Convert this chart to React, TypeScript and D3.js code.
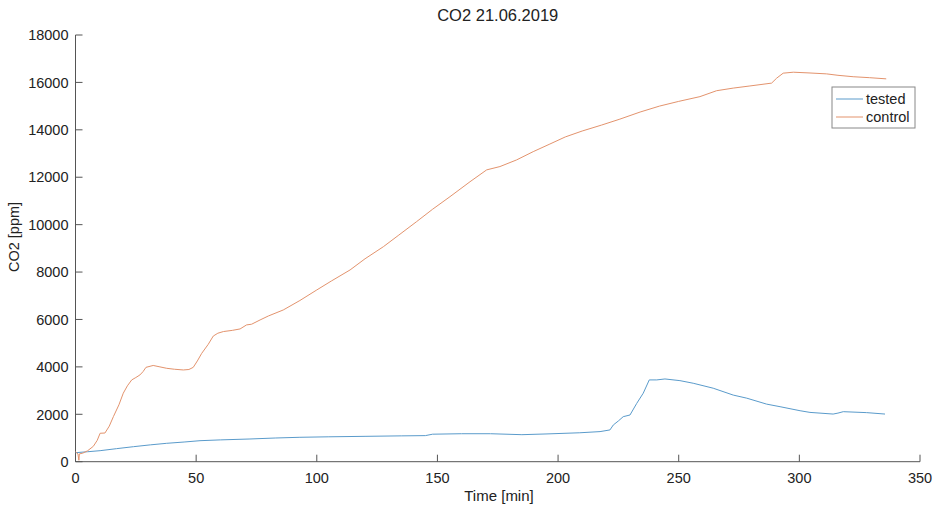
import * as d3 from 'd3';
import React, { useEffect, useRef } from 'react';

const timeTested = [0, 5, 10.2, 17, 24, 31, 37.8, 45, 51.6, 60, 72.3, 83, 93, 105, 120, 135, 145, 148, 160, 172, 185, 195, 209, 217.4, 221.5, 222.9, 225, 227, 229.8, 232.6, 235.3, 237.8, 240.9, 244.3, 250.5, 256, 264.3, 272.6, 278.2, 286.4, 292, 300.3, 304.4, 314, 316, 318.2, 327.9, 335.5];
const co2Tested = [380, 420, 465, 550, 633, 710, 776, 830, 886, 920, 958, 1000, 1030, 1050, 1070, 1090, 1100, 1160, 1180, 1180, 1140, 1170, 1220, 1270, 1340, 1550, 1720, 1900, 1970, 2460, 2890, 3450, 3450, 3490, 3420, 3310, 3100, 2810, 2680, 2430, 2320, 2150, 2080, 2010, 2050, 2110, 2070, 2010];

const timeControl = [0, 1, 1.4, 1.6, 3, 5, 7.4, 9, 10.2, 12.2, 14, 15.7, 18, 19.8, 21.5, 23.3, 25, 26.7, 28, 29.2, 32.2, 35, 37.8, 41, 44.7, 47, 48.8, 50.5, 52.3, 55, 57.1, 59, 61.3, 65, 68.2, 70.9, 73, 76.5, 80, 86.1, 93, 100, 106, 113.8, 120, 127.6, 134, 141.4, 148, 155.2, 163.5, 170.4, 175.9, 182.8, 189.7, 196.6, 203, 210, 218, 225.6, 234, 242, 250, 258.8, 265.7, 272.6, 279.5, 288.5, 290.6, 293.3, 297.5, 304, 311.3, 316, 322.3, 329, 336];
const co2Control = [420, 330, 60, 330, 360, 460, 650, 900, 1200, 1210, 1500, 1900, 2400, 2890, 3200, 3450, 3550, 3660, 3800, 3980, 4060, 4000, 3940, 3900, 3870, 3890, 3980, 4250, 4570, 4950, 5300, 5420, 5490, 5540, 5600, 5770, 5800, 5980, 6150, 6400, 6800, 7245, 7620, 8090, 8560, 9070, 9560, 10130, 10650, 11180, 11810, 12310, 12450, 12730, 13080, 13400, 13700, 13950, 14200, 14450, 14750, 15000, 15200, 15400, 15650, 15760, 15850, 15970, 16180, 16390, 16430, 16400, 16360, 16300, 16240, 16200, 16150];

const xTicks = [0, 50, 100, 150, 200, 250, 300, 350];
const yTicks = [0, 2000, 4000, 6000, 8000, 10000, 12000, 14000, 16000, 18000];

const seriesNames = ['tested', 'control'];
const seriesColors = ['#5a9bcb', '#e3936d'];

export default function App() {
  const ref = useRef<SVGSVGElement>(null);

  const width = 936,
    height = 508;
  const margin = { left: 75.5, right: 16, top: 35, bottom: 46.3 };

  useEffect(() => {
    const svg = d3.select(ref.current);
    svg.selectAll('*').remove();

    const x = d3.scaleLinear().domain([0, 350]).range([margin.left, width - margin.right]);
    const y = d3.scaleLinear().domain([0, 18000]).range([height - margin.bottom, margin.top]);

    const font = '"Liberation Sans", Arial, sans-serif';
    const axisColor = '#555';
    const textColor = '#222';

    // x axis, ticks pointing in
    const xAxis = svg.append('g').attr('transform', `translate(0,${y(0)})`);
    xAxis.append('line')
      .attr('x1', x(0)).attr('x2', x(350))
      .attr('stroke', axisColor).attr('stroke-width', 1);
    xAxis.selectAll('line.tick')
      .data(xTicks)
      .enter()
      .append('line')
      .attr('class', 'tick')
      .attr('x1', d => x(d)).attr('x2', d => x(d))
      .attr('y1', 0).attr('y2', -7)
      .attr('stroke', axisColor);
    xAxis.selectAll('text')
      .data(xTicks)
      .enter()
      .append('text')
      .attr('x', d => x(d))
      .attr('y', 21.5)
      .attr('text-anchor', 'middle')
      .attr('font-family', font)
      .attr('font-size', 14.5)
      .attr('fill', textColor)
      .text(d => d);

    // y axis
    const yAxis = svg.append('g').attr('transform', `translate(${x(0)},0)`);
    yAxis.append('line')
      .attr('y1', y(0)).attr('y2', y(18000))
      .attr('stroke', axisColor).attr('stroke-width', 1);
    yAxis.selectAll('line.tick')
      .data(yTicks)
      .enter()
      .append('line')
      .attr('class', 'tick')
      .attr('y1', d => y(d)).attr('y2', d => y(d))
      .attr('x1', 0).attr('x2', 7)
      .attr('stroke', axisColor);
    yAxis.selectAll('text')
      .data(yTicks)
      .enter()
      .append('text')
      .attr('x', -7)
      .attr('y', d => y(d))
      .attr('dy', '0.36em')
      .attr('text-anchor', 'end')
      .attr('font-family', font)
      .attr('font-size', 14.5)
      .attr('fill', textColor)
      .text(d => d);

    // lines
    const line = d3.line<[number, number]>()
      .x(d => x(d[0]))
      .y(d => y(d[1]));

    const series = [
      d3.zip(timeTested, co2Tested) as [number, number][],
      d3.zip(timeControl, co2Control) as [number, number][],
    ];

    svg.selectAll('path.series')
      .data(series)
      .enter()
      .append('path')
      .attr('class', 'series')
      .attr('fill', 'none')
      .attr('stroke', (d, i) => seriesColors[i])
      .attr('stroke-width', 1)
      .attr('stroke-linejoin', 'round')
      .attr('d', line);

    // titles
    svg.append('text')
      .attr('x', (x(0) + x(350)) / 2)
      .attr('y', 20.5)
      .attr('text-anchor', 'middle')
      .attr('font-family', font)
      .attr('font-size', 16.5)
      .attr('fill', textColor)
      .text('CO2 21.06.2019');

    svg.append('text')
      .attr('x', 499)
      .attr('y', 501)
      .attr('text-anchor', 'middle')
      .attr('font-family', font)
      .attr('font-size', 15)
      .attr('fill', textColor)
      .text('Time [min]');

    svg.append('text')
      .attr('transform', 'translate(19,237) rotate(-90)')
      .attr('text-anchor', 'middle')
      .attr('font-family', font)
      .attr('font-size', 14.5)
      .attr('fill', textColor)
      .text('CO2 [ppm]');

    // legend
    const legend = svg.append('g');
    legend.append('rect')
      .attr('x', 832).attr('y', 87)
      .attr('width', 83).attr('height', 41)
      .attr('fill', 'white')
      .attr('stroke', '#888');
    const items = legend.selectAll('g.item')
      .data(seriesNames)
      .enter()
      .append('g')
      .attr('class', 'item')
      .attr('transform', (d, i) => `translate(0,${99 + i * 18})`);
    items.append('line')
      .attr('x1', 836).attr('x2', 863)
      .attr('stroke', (d, i) => seriesColors[i])
      .attr('stroke-width', 1);
    items.append('text')
      .attr('x', 866)
      .attr('y', 5.3)
      .attr('font-family', font)
      .attr('font-size', 14.5)
      .attr('fill', textColor)
      .text(d => d);
  }, []);

  return (
    <div style={{ position: 'absolute', left: 0, top: 0, background: 'white' }}>
      <svg ref={ref} width={width} height={height} style={{ display: 'block' }} />
    </div>
  );
}
